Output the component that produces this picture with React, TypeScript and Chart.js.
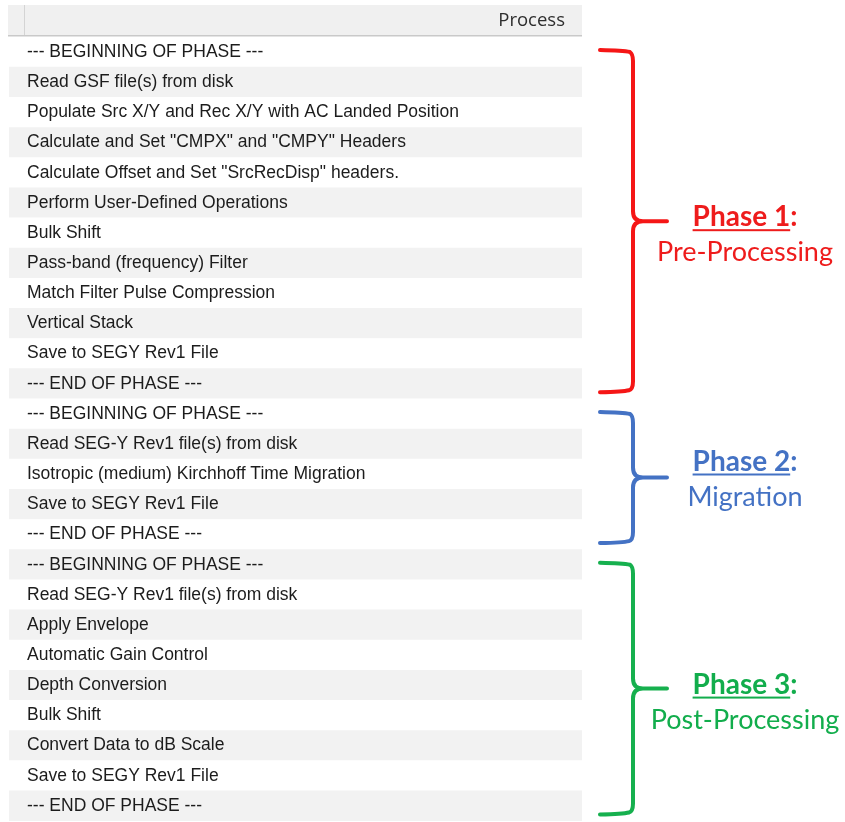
import React, { useEffect, useRef } from "react";
import { Chart, registerables } from "chart.js";

Chart.register(...registerables);

// ---------- data ----------
const HEADER_LABEL = "Process";

const PROCESS_STEPS: string[] = [
  "--- BEGINNING OF PHASE ---",
  "Read GSF file(s) from disk",
  "Populate Src X/Y and Rec X/Y with AC Landed Position",
  'Calculate and Set "CMPX" and "CMPY" Headers',
  'Calculate Offset and Set "SrcRecDisp" headers.',
  "Perform User-Defined Operations",
  "Bulk Shift",
  "Pass-band (frequency) Filter",
  "Match Filter Pulse Compression",
  "Vertical Stack",
  "Save to SEGY Rev1 File",
  "--- END OF PHASE ---",
  "--- BEGINNING OF PHASE ---",
  "Read SEG-Y Rev1 file(s) from disk",
  "Isotropic (medium) Kirchhoff Time Migration",
  "Save to SEGY Rev1 File",
  "--- END OF PHASE ---",
  "--- BEGINNING OF PHASE ---",
  "Read SEG-Y Rev1 file(s) from disk",
  "Apply Envelope",
  "Automatic Gain Control",
  "Depth Conversion",
  "Bulk Shift",
  "Convert Data to dB Scale",
  "Save to SEGY Rev1 File",
  "--- END OF PHASE ---",
];

// every row is a full-width table row
const ROW_SPAN: number[] = [
  1, 1, 1, 1, 1, 1, 1, 1, 1, 1, 1, 1, 1, 1, 1, 1, 1, 1, 1, 1, 1, 1, 1, 1, 1, 1,
];

const PHASE_TITLES: string[] = ["Phase 1", "Phase 2", "Phase 3"];
const PHASE_NAMES: string[] = ["Pre-Processing", "Migration", "Post-Processing"];
const PHASE_FIRST_ROW: number[] = [0, 12, 17];
const PHASE_LAST_ROW: number[] = [11, 16, 25];

// ---------- styles ----------
const BRACE_COLORS = ["#f51616", "#4472c4", "#16b04e"];
const TEXT_COLORS = ["#ee1c1c", "#4472c4", "#12ad4c"];
const LABEL_DY = [5, -7, 5];
const STRIPE = "#f2f2f2";
const ROW_FONT = "Liberation Sans";
const LABEL_FONT = "Lato";

const overlayPlugin = {
  id: "tableOverlay",
  beforeDraw(chart: any) {
    const { ctx, chartArea } = chart;
    const { left, right, top } = chartArea;
    ctx.save();
    ctx.fillStyle = "#ffffff";
    ctx.fillRect(0, 0, chart.width, chart.height);
    // header cell
    ctx.fillStyle = "#f0f0f0";
    ctx.fillRect(left - 1, 5, right - left + 1, top - 6);
    ctx.fillStyle = "#c9c9c9";
    ctx.fillRect(left - 1, top - 2, right - left + 1, 1.5);
    ctx.fillStyle = "#d4d4d4";
    ctx.fillRect(left + 15, 5, 1, top - 7);
    ctx.fillStyle = "#2e2e2e";
    ctx.font = '18.5px "Open Sans"';
    ctx.textAlign = "right";
    ctx.textBaseline = "middle";
    ctx.fillText(HEADER_LABEL, right - 17, 21);
    ctx.restore();
  },
  afterDraw(chart: any) {
    const { ctx, chartArea } = chart;
    const yScale = chart.scales.y;
    const rowH = Math.abs(yScale.getPixelForValue(1) - yScale.getPixelForValue(0));
    const xL = chartArea.right + 18;
    const xV = chartArea.right + 51;
    const xTip = chartArea.right + 85;
    const cx = chartArea.right + 163;
    const r = 10;
    ctx.save();
    PHASE_TITLES.forEach((title, i) => {
      const top = yScale.getPixelForValue(PHASE_FIRST_ROW[i]) - 1;
      const bot = yScale.getPixelForValue(PHASE_LAST_ROW[i]) + rowH * 0.25;
      const mid = (top + bot) / 2;
      ctx.strokeStyle = BRACE_COLORS[i];
      ctx.lineWidth = 4;
      ctx.lineCap = "round";
      ctx.lineJoin = "round";
      ctx.beginPath();
      ctx.moveTo(xL, top - 1);
      ctx.quadraticCurveTo(xV - r, top - 0.5, xV - 3, top + 1);
      ctx.quadraticCurveTo(xV, top + 3, xV, top + r);
      ctx.lineTo(xV, mid - r);
      ctx.quadraticCurveTo(xV, mid, xV + r, mid);
      ctx.lineTo(xTip, mid);
      ctx.moveTo(xV + r, mid);
      ctx.quadraticCurveTo(xV, mid, xV, mid + r);
      ctx.lineTo(xV, bot - r);
      ctx.quadraticCurveTo(xV, bot - 2, xV - 4, bot - 1);
      ctx.quadraticCurveTo(xV - r, bot + 0.5, xL, bot + 1);
      ctx.stroke();

      // labels
      const base = mid + LABEL_DY[i];
      ctx.fillStyle = TEXT_COLORS[i];
      ctx.textBaseline = "alphabetic";
      ctx.textAlign = "left";
      ctx.font = `bold 28px ${LABEL_FONT}`;
      const tw = ctx.measureText(title).width;
      const cw = ctx.measureText(":").width;
      const sx = cx - (tw + cw) / 2;
      ctx.fillText(title, sx, base);
      ctx.fillText(":", sx + tw, base);
      ctx.fillRect(sx, base + 3, tw, 2);
      ctx.font = `27px ${LABEL_FONT}`;
      ctx.textAlign = "center";
      ctx.fillText(PHASE_NAMES[i], cx, base + 35);
    });
    ctx.restore();
  },
};

export default function App() {
  const canvasRef = useRef<HTMLCanvasElement | null>(null);

  useEffect(() => {
    const canvas = canvasRef.current;
    if (!canvas) return;
    const chart = new Chart(canvas, {
      type: "bar",
      data: {
        labels: PROCESS_STEPS,
        datasets: [
          {
            data: ROW_SPAN,
            backgroundColor: (c: any) => (c.dataIndex % 2 === 1 ? STRIPE : "#ffffff"),
            borderWidth: 0,
            categoryPercentage: 1,
            barPercentage: 1,
          },
        ],
      },
      options: {
        indexAxis: "y",
        animation: false,
        responsive: false,
        maintainAspectRatio: false,
        events: [],
        layout: { padding: { left: 9, right: 263, top: 37, bottom: 1 } },
        plugins: {
          legend: { display: false },
          tooltip: { enabled: false },
          title: { display: false },
        },
        scales: {
          x: { display: false, min: 0, max: 1 },
          y: {
            position: "left",
            afterFit: (scale: any) => {
              scale.width = 0;
              scale.paddingTop = 0;
              scale.paddingBottom = 0;
            },
            grid: { display: false, drawTicks: false },
            border: { display: false },
            ticks: {
              mirror: true,
              padding: 18,
              z: 1,
              autoSkip: false,
              crossAlign: "near",
              color: "#1c1c1c",
              font: { family: ROW_FONT, size: 17.5 },
            },
          },
        },
      },
      plugins: [overlayPlugin],
    } as any);
    return () => chart.destroy();
  }, []);

  return (
    <div style={{ position: "absolute", left: 0, top: 0, width: 845, height: 822, background: "#fff" }}>
      <canvas ref={canvasRef} width={845} height={822} style={{ display: "block" }} />
    </div>
  );
}
